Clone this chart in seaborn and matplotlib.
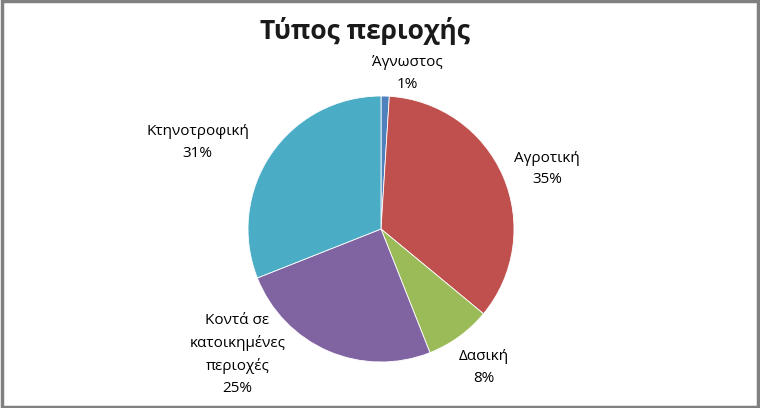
import numpy as np
import matplotlib
matplotlib.use("Agg")
import matplotlib.pyplot as plt
import seaborn as sns

sns.set_theme(style="white")
plt.rcParams['font.family'] = ['Open Sans', 'DejaVu Sans']

# δεδομένα
categories = ['Άγνωστος', 'Αγροτική', 'Δασική', 'Κοντά σε\nκατοικημένες\nπεριοχές', 'Κτηνοτροφική']
values = [1, 35, 8, 25, 31]
colors = ['#4F81BD', '#C0504D', '#9BBB59', '#8064A2', '#4BACC6']
title = 'Τύπος περιοχής'

# θέσεις ετικετών (σε μονάδες ακτίνας)
label_pos = [(0.195, 1.17), (1.25, 0.45), (0.77, -1.04), (-1.08, -0.94), (-1.38, 0.65)]

fig = plt.figure(figsize=(7.6, 4.08), dpi=100)
fig.patch.set_facecolor('white')

r_px = 133
cx, cy = 381, 229
ax = fig.add_axes([(cx - r_px) / 760, (408 - cy - r_px) / 408, 2 * r_px / 760, 2 * r_px / 408])
wedges, _ = ax.pie(values, colors=colors, startangle=90, counterclock=False, radius=1,
                   wedgeprops=dict(edgecolor='white', linewidth=0.6))
ax.set_xlim(-1, 1)
ax.set_ylim(-1, 1)
ax.set_aspect('equal')
ax.axis('off')

for cat, val, (x, y) in zip(categories, values, label_pos):
    ax.text(x, y, f'{cat}\n{val}%', ha='center', va='center', fontsize=11,
            color='black', linespacing=1.6, clip_on=False)

fig.text(365 / 760, 0.925, title, ha='center', va='center', fontsize=19, fontweight='bold', color='#1a1a1a')

# περίγραμμα
border = plt.Rectangle((0.002, 0.003), 0.995, 0.994, transform=fig.transFigure, fill=False,
                       edgecolor='#808080', linewidth=2.5)
fig.patches.append(border)

plt.savefig('out.png', dpi=100)
